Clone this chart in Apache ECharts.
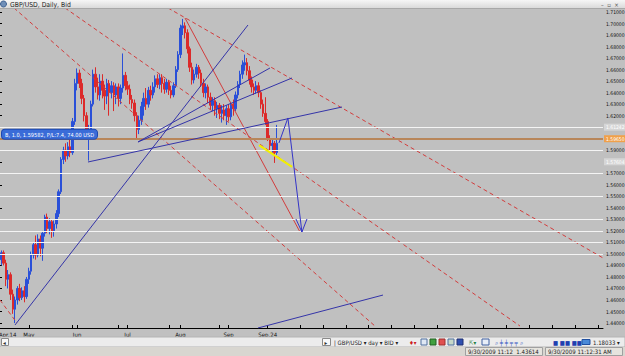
<!DOCTYPE html>
<html>
<head>
<meta charset="utf-8">
<style>html,body{margin:0;padding:0;background:#c0c0c0;overflow:hidden}#c{width:625px;height:356px;}</style>
<script src="https://cdn.jsdelivr.net/npm/echarts@6/dist/echarts.min.js"></script>
</head>
<body>
<div id="c"></div>
<script>
const FONT = "'Liberation Sans Narrow','DejaVu Sans Condensed','Liberation Sans',Arial,sans-serif";

// ---- categories: trading days from 2009-04-14, plus empty future slots ----
const slotCount = 264;
const dates = [];
(function () {
  const d = new Date(Date.UTC(2009, 3, 14));
  while (dates.length < slotCount) {
    const wd = d.getUTCDay();
    if (wd !== 0 && wd !== 6) dates.push(d.toISOString().slice(0, 10));
    d.setUTCDate(d.getUTCDate() + 1);
  }
})();

// ---- daily candles [open, close, low, high] ----
const candles = [
  [1.4800,1.4950,1.4760,1.4980],[1.4950,1.5010,1.4900,1.5030],[1.5010,1.4920,1.4900,1.5030],[1.4920,1.4780,1.4720,1.4950],
  [1.4780,1.4820,1.4700,1.4860],[1.4820,1.4650,1.4600,1.4840],[1.4650,1.4520,1.4480,1.4690],[1.4520,1.4600,1.4400,1.4630],
  [1.4600,1.4700,1.4560,1.4720],[1.4700,1.4620,1.4590,1.4740],[1.4620,1.4680,1.4600,1.4710],[1.4680,1.4630,1.4580,1.4720],
  [1.4630,1.4780,1.4610,1.4800],
  [1.4780,1.4850,1.4740,1.4880],[1.4850,1.4990,1.4820,1.5020],[1.4990,1.5080,1.4960,1.5100],[1.5080,1.4990,1.4950,1.5160],
  [1.4990,1.5130,1.4970,1.5170],[1.5130,1.5050,1.4980,1.5160],[1.5050,1.5180,1.4940,1.5200],[1.5180,1.5320,1.5150,1.5340],
  [1.5320,1.5220,1.5180,1.5350],[1.5220,1.5280,1.5170,1.5310],[1.5280,1.5200,1.5140,1.5300],[1.5200,1.5260,1.5150,1.5290],
  [1.5260,1.5350,1.5220,1.5380],[1.5350,1.5540,1.5320,1.5560],[1.5540,1.5820,1.5520,1.5840],[1.5820,1.5900,1.5780,1.5930],
  [1.5900,1.5850,1.5800,1.5960],[1.5850,1.5930,1.5820,1.5970],[1.5930,1.5880,1.5840,1.5990],[1.5880,1.6150,1.5860,1.6180],
  [1.6150,1.6480,1.6120,1.6520],
  [1.6480,1.6570,1.6420,1.6610],[1.6570,1.6480,1.6440,1.6600],[1.6480,1.6350,1.6300,1.6520],[1.6350,1.6200,1.6150,1.6380],
  [1.6200,1.6050,1.6000,1.6230],[1.6050,1.6080,1.5810,1.6120],[1.6080,1.6300,1.6050,1.6330],[1.6300,1.6560,1.6280,1.6600],
  [1.6560,1.6450,1.6400,1.6620],[1.6450,1.6380,1.6340,1.6530],[1.6380,1.6500,1.6330,1.6560],[1.6500,1.6420,1.6350,1.6560],
  [1.6420,1.6370,1.6250,1.6470],[1.6370,1.6480,1.6300,1.6520],[1.6480,1.6400,1.6200,1.6510],[1.6400,1.6460,1.6350,1.6500],
  [1.6460,1.6380,1.6240,1.6490],[1.6380,1.6450,1.6300,1.6480],[1.6450,1.6350,1.6280,1.6480],[1.6350,1.6440,1.6300,1.6470],
  [1.6440,1.6550,1.6400,1.6740],[1.6550,1.6460,1.6420,1.6580],
  [1.6460,1.6430,1.6380,1.6500],[1.6430,1.6340,1.6300,1.6470],[1.6340,1.6310,1.6260,1.6380],[1.6310,1.6200,1.6150,1.6340],
  [1.6200,1.6080,1.5990,1.6230],[1.6080,1.6160,1.6040,1.6200],[1.6160,1.6280,1.6120,1.6320],[1.6280,1.6350,1.6200,1.6400],
  [1.6350,1.6300,1.6250,1.6440],[1.6300,1.6420,1.6270,1.6450],[1.6420,1.6380,1.6330,1.6460],[1.6380,1.6450,1.6350,1.6490],
  [1.6450,1.6520,1.6400,1.6550],[1.6520,1.6470,1.6440,1.6560],[1.6470,1.6530,1.6430,1.6560],[1.6530,1.6480,1.6400,1.6560],
  [1.6480,1.6430,1.6390,1.6520],[1.6430,1.6490,1.6400,1.6520],[1.6490,1.6420,1.6380,1.6510],[1.6420,1.6380,1.6350,1.6460],
  [1.6380,1.6460,1.6360,1.6490],[1.6460,1.6600,1.6440,1.6630],[1.6600,1.6730,1.6580,1.6760],
  [1.6730,1.6960,1.6700,1.6990],[1.6960,1.6980,1.6900,1.7040],[1.6980,1.6920,1.6870,1.7010],[1.6920,1.6780,1.6740,1.6950],
  [1.6780,1.6620,1.6580,1.6800],[1.6620,1.6510,1.6470,1.6660],[1.6510,1.6560,1.6480,1.6600],[1.6560,1.6620,1.6530,1.6650],
  [1.6620,1.6570,1.6520,1.6640],[1.6570,1.6480,1.6450,1.6600],[1.6480,1.6400,1.6360,1.6520],[1.6400,1.6450,1.6350,1.6480],
  [1.6450,1.6360,1.6310,1.6470],[1.6360,1.6290,1.6250,1.6400],[1.6290,1.6330,1.6240,1.6360],[1.6330,1.6260,1.6200,1.6360],
  [1.6260,1.6290,1.6180,1.6320],[1.6290,1.6220,1.6170,1.6310],[1.6220,1.6250,1.6140,1.6290],[1.6250,1.6200,1.6160,1.6300],
  [1.6200,1.6260,1.6120,1.6290],
  [1.6260,1.6190,1.6150,1.6300],[1.6190,1.6300,1.6160,1.6320],[1.6300,1.6260,1.6200,1.6340],[1.6260,1.6380,1.6240,1.6410],
  [1.6380,1.6470,1.6350,1.6500],[1.6470,1.6560,1.6440,1.6590],[1.6560,1.6640,1.6520,1.6680],[1.6640,1.6660,1.6590,1.6730],
  [1.6660,1.6590,1.6550,1.6700],[1.6590,1.6510,1.6470,1.6630],[1.6510,1.6450,1.6400,1.6540],[1.6450,1.6420,1.6380,1.6480],
  [1.6420,1.6460,1.6390,1.6500],[1.6460,1.6400,1.6360,1.6490],[1.6400,1.6300,1.6260,1.6420],[1.6300,1.6220,1.6190,1.6340],
  [1.6220,1.6150,1.6120,1.6360],[1.6150,1.6000,1.5980,1.6170],[1.6000,1.5940,1.5900,1.6030],[1.5940,1.5960,1.5880,1.6000],
  [1.5960,1.5880,1.5790,1.5980],[1.5880,1.5960,1.5860,1.6120]
];

// ---- axis labels ----
const xLabelMap = {0: 'Apr.14', 13: 'May', 34: 'Jun', 56: 'Jul', 79: 'Aug', 100: 'Sep', 117: 'Sep.24'};
const xTickIdx = [0,13,32,34,52,56,74,79,96,100,117,131,141,151,161,171,181,191,201,211,221,231,241,251,261];
const yTicks = [1.44,1.45,1.46,1.47,1.48,1.49,1.50,1.51,1.52,1.53,1.54,1.55,1.56,1.57,1.58,1.59,1.60,1.61,1.62,1.63,1.64,1.65,1.66,1.67,1.68,1.69,1.70,1.71];
const yMin = 1.43569, yMax = 1.71260;

// ---- horizontal levels ----
const whiteLevels = [1.6145, 1.5859, 1.5711, 1.5503, 1.5347, 1.5225, 1.5173, 1.5051, 1.4982];
const orderLevel = 1.5965;
const orderText = 'B, 1.0, 1.59582, P/L:7.4, 74.00 USD';
const priceTags = [
  {price: 1.61242, text: '1.61242', bg: '#d6d6d6'},
  {price: 1.59650, text: '1.59650', bg: '#f0a04a'},
  {price: 1.57604, text: '1.57604', bg: '#d6d6d6'}
];

// ---- drawn objects: [bar index, price] endpoints ----
const redDashed = [
  [[6.53, 1.7135], [163.7, 1.4374]],
  [[28.74, 1.7135], [226.85, 1.4374]],
  [[73.59, 1.7135], [263.0, 1.4965]],
  [[0.43, 1.4600], [7.84, 1.4400]]
];
const redSolid = [
  [[80.99, 1.7048], [131.07, 1.5190]]
];
const blueLines = [
  [[6.97, 1.4383], [108.42, 1.6987]],
  [[38.75, 1.5798], [149.35, 1.6275]],
  [[60.52, 1.5972], [127.58, 1.6527]],
  [[60.52, 1.5972], [118.0, 1.6614]],
  [[112.77, 1.4357], [167.2, 1.4643]]
];
const arrowLine = [[121.9, 1.5963], [125.8, 1.6180], [131.9, 1.5190]];
const arrowHead = [[129.3, 1.5303], [131.9, 1.5190], [134.1, 1.5303]];
const yellowLine = [[113.2, 1.5945], [127.6, 1.5755]];

function seg(points, color, width, type, z) {
  return {
    type: 'line', xAxisIndex: 1, yAxisIndex: 0, data: points, symbol: 'none',
    silent: true, z: z, animation: false,
    lineStyle: {color: color, width: width, type: type}
  };
}

const series = [];
const levelData = whiteLevels.map(v => ({yAxis: v, lineStyle: {color: '#f4f4f4', width: 1, type: 'solid'}, label: {show: false}}));

const topMarks = [{
  yAxis: orderLevel, lineStyle: {color: '#b8865a', width: 2, type: 'solid'},
  label: {show: true, position: 'insideStartTop', distance: [3, 0], formatter: orderText,
    color: '#ffffff', fontFamily: FONT, fontSize: 5.6, backgroundColor: '#3a6cd8',
    borderColor: '#1d48b0', borderWidth: 1, borderRadius: 3, padding: [2, 3, 1, 3]}
}];
const tagMarks = priceTags.map(t => ({
  yAxis: t.price, lineStyle: {color: 'rgba(0,0,0,0)', width: 1},
  label: {show: true, position: 'end', distance: 1, formatter: t.text, color: '#ffffff',
    fontFamily: FONT, fontSize: 5, backgroundColor: t.bg, padding: [1, 1, 1, 2], opacity: 1}
}));

series.push({
  type: 'candlestick', data: candles, barWidth: 2, z: 3, animation: false, clip: false,
  itemStyle: {color: '#2a50d8', color0: '#dc2a2a', borderColor: '#2a50d8', borderColor0: '#dc2a2a', borderWidth: 1},
  markLine: {silent: true, symbol: ['none', 'none'], animation: false, data: levelData}
});
redDashed.forEach(p => series.push(seg(p, '#d23c3c', 1, [4, 3], 4)));
redSolid.forEach(p => series.push(seg(p, '#d23c3c', 1, 'solid', 4)));
blueLines.forEach(p => series.push(seg(p, '#3434a8', 1, 'solid', 5)));
series.push(seg(arrowLine, '#3434c8', 1, 'solid', 5));
series.push(seg(arrowHead, '#3434c8', 1, 'solid', 5));
series.push(seg(yellowLine, '#f2f000', 2, 'solid', 6));
series.push({
  type: 'line', data: [], z: 8, clip: false, silent: true, animation: false,
  markLine: {silent: true, symbol: ['none', 'none'], animation: false, data: topMarks}
});
series.push({
  type: 'line', data: [], z: 9, clip: false, silent: true, animation: false,
  markLine: {silent: true, symbol: ['none', 'none'], animation: false, data: tagMarks}
});

const chart = echarts.init(document.getElementById('c'), null, {renderer: 'svg'});

const tb = 337, sb = 347;
const graphic = [
  {type: 'rect', shape: {x: 0, y: 0, width: 625, height: 8}, style: {fill: new echarts.graphic.LinearGradient(0, 0, 0, 1, [{offset: 0, color: '#f6f6f6'}, {offset: 1, color: '#dadada'}])}, z: 10},
  {type: 'line', shape: {x1: 0, y1: 8.5, x2: 625, y2: 8.5}, style: {stroke: '#a8a8a8', lineWidth: 1}, z: 10},
  {type: 'circle', shape: {cx: 3.5, cy: 4, r: 3}, style: {fill: '#6f8fb8', stroke: '#3b5f90'}, z: 11},
  {type: 'text', x: 10, y: 4.5, style: {text: 'GBP/USD, Daily, Bid', fill: '#222', font: '6.8px ' + FONT, verticalAlign: 'middle'}, z: 11},
  {type: 'text', x: 601, y: 4.5, style: {text: '–  ▫  ×', fill: '#555', font: '6px ' + FONT, verticalAlign: 'middle'}, z: 11},
  // scrollbar + toolbar strip
  {type: 'rect', shape: {x: 0, y: tb, width: 625, height: 10}, style: {fill: '#ececec', stroke: '#b4b4b4', lineWidth: 1}, z: 10},
  {type: 'rect', shape: {x: 1.5, y: tb + 1.5, width: 7, height: 7}, style: {fill: '#f8f8f8', stroke: '#8a8a8a', lineWidth: 1}, z: 11},
  {type: 'text', x: 3, y: tb + 5, style: {text: '◂', fill: '#333', font: '6px ' + FONT, verticalAlign: 'middle'}, z: 12},
  {type: 'rect', shape: {x: 322.5, y: tb + 1.5, width: 8, height: 7}, style: {fill: '#f8f8f8', stroke: '#8a8a8a', lineWidth: 1}, z: 11},
  {type: 'text', x: 324.5, y: tb + 5, style: {text: '▸', fill: '#333', font: '6px ' + FONT, verticalAlign: 'middle'}, z: 12},
  {type: 'text', x: 334, y: tb + 5, style: {text: '| GBP/USD ▾ day ▾ BID ▾', fill: '#222', font: '6px ' + FONT, verticalAlign: 'middle'}, z: 12},
  {type: 'text', x: 409, y: tb + 5, style: {text: '♦▾', fill: '#cc2020', font: '6px ' + FONT, verticalAlign: 'middle'}, z: 12},
  {type: 'rect', shape: {x: 421, y: tb + 2, width: 6, height: 6}, style: {fill: '#dfe8f4', stroke: '#5070a0'}, z: 12},
  {type: 'rect', shape: {x: 430, y: tb + 2, width: 6, height: 6}, style: {fill: '#40a040', stroke: '#206020'}, z: 12},
  {type: 'rect', shape: {x: 439, y: tb + 2, width: 6, height: 6}, style: {fill: '#e05050', stroke: '#a03030'}, z: 12},
  {type: 'rect', shape: {x: 448, y: tb + 2, width: 6, height: 6}, style: {fill: '#c8d8c8', stroke: '#5070a0'}, z: 12},
  {type: 'rect', shape: {x: 457, y: tb + 2, width: 6, height: 6}, style: {fill: '#3050b0', stroke: '#203070'}, z: 12},
  {type: 'text', x: 469, y: tb + 5, style: {text: '⇱▾', fill: '#208040', font: '6px ' + FONT, verticalAlign: 'middle'}, z: 12},
  {type: 'rect', shape: {x: 482, y: tb + 2, width: 7, height: 6}, style: {fill: '#e8eef8', stroke: '#4060a0'}, z: 12},
  {type: 'text', x: 495, y: tb + 5, style: {text: '⌕ ╪ ╪ ╤ ╤ ⌕', fill: '#3050c0', font: '6px ' + FONT, verticalAlign: 'middle'}, z: 12},
  {type: 'text', x: 553, y: tb + 5, style: {text: '■ ■■ ■■', fill: '#2040b0', font: '6px ' + FONT, verticalAlign: 'middle'}, z: 12},
  {type: 'rect', shape: {x: 582, y: tb + 2.5, width: 8, height: 5}, style: {fill: '#4a8ad8', stroke: '#2050a0'}, z: 12},
  {type: 'text', x: 593, y: tb + 5, style: {text: '1.18033 ▾', fill: '#222', font: '6px ' + FONT, verticalAlign: 'middle'}, z: 12},
  // status bar
  {type: 'rect', shape: {x: 0, y: sb, width: 625, height: 9}, style: {fill: '#d8d6d0'}, z: 10},
  {type: 'rect', shape: {x: 465.5, y: sb + 0.5, width: 77, height: 8}, style: {fill: '#e6e4de', stroke: '#a0a0a0'}, z: 11},
  {type: 'text', x: 468, y: sb + 4.5, style: {text: '9/30/2009 11:12  1.43614', fill: '#222', font: '6px ' + FONT, verticalAlign: 'middle'}, z: 12},
  {type: 'rect', shape: {x: 545.5, y: sb + 0.5, width: 77, height: 8}, style: {fill: '#e6e4de', stroke: '#a0a0a0'}, z: 11},
  {type: 'text', x: 548, y: sb + 4.5, style: {text: '9/30/2009 11:12:31 AM', fill: '#222', font: '6px ' + FONT, verticalAlign: 'middle'}, z: 12}
];

chart.setOption({
  animation: false,
  backgroundColor: '#c0c0c0',
  grid: {left: -1, right: 22, top: 9, bottom: 28, containLabel: false, outerBoundsMode: 'none'},
  xAxis: [
    {
      type: 'category', data: dates, boundaryGap: false, position: 'bottom',
      axisLine: {lineStyle: {color: '#000', width: 1}},
      axisTick: {inside: true, length: 3, lineStyle: {color: '#000'}, interval: (i) => xTickIdx.indexOf(i) >= 0},
      axisLabel: {interval: (i) => xLabelMap[i] !== undefined, formatter: (v, i) => xLabelMap[i] || '',
        alignMinLabel: 'left', color: '#111', fontFamily: FONT, fontSize: 6, margin: 3},
      splitLine: {show: false}
    },
    {type: 'value', min: 0, max: slotCount - 1, show: false}
  ],
  yAxis: [{
    type: 'value', position: 'right', min: yMin, max: yMax, scale: true,
    axisLine: {show: true, lineStyle: {color: '#000', width: 1}},
    axisTick: {show: true, length: 3, customValues: yTicks, lineStyle: {color: '#000'}},
    axisLabel: {customValues: yTicks, formatter: (v) => v.toFixed(5), color: '#111', fontFamily: FONT, fontSize: 5, margin: 3},
    splitLine: {show: false}
  }],
  series: series,
  graphic: graphic
});
</script>
</body>
</html>
